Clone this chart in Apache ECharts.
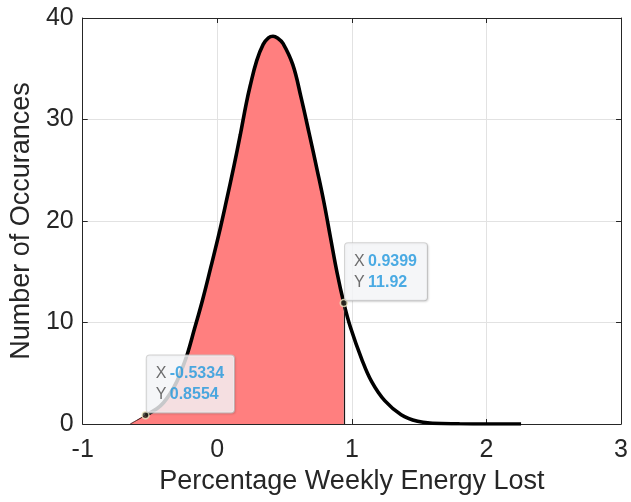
<!DOCTYPE html>
<html>
<head>
<meta charset="utf-8">
<script src="https://cdn.jsdelivr.net/npm/echarts@6/dist/echarts.min.js"></script>
<style>
  html, body { margin: 0; padding: 0; background: #fff; }
  #chart { width: 631px; height: 502px; }
</style>
</head>
<body>
<div id="chart"></div>
<script>
// density curve
const curveX = [-0.647, -0.6, -0.5334, -0.45, -0.4, -0.35, -0.3, -0.26, -0.22, -0.171, -0.11, -0.049,
  0.012, 0.068, 0.122, 0.171, 0.214, 0.244, 0.293, 0.341, 0.38, 0.414, 0.45, 0.488, 0.561, 0.622,
  0.683, 0.744, 0.793, 0.842, 0.89, 0.9399, 0.99, 1.073, 1.146, 1.244, 1.366, 1.488, 1.6, 1.8, 2.0, 2.257];
const curveY = [0, 0.35, 0.8554, 1.5, 2.1, 3.0, 4.2, 5.5, 7.0, 9.3, 12.2, 15.4,
  18.7, 22.0, 25.3, 28.5, 31.5, 33.3, 35.8, 37.4, 38.05, 38.2, 38.0, 37.5, 35.4, 32.2,
  28.6, 24.9, 21.8, 18.3, 14.9, 11.92, 9.5, 6.4, 4.2, 2.3, 0.92, 0.26, 0.08, 0.02, 0.0, 0];

// data tips
const tipX = [-0.5334, 0.9399];
const tipY = [0.8554, 11.92];

const FONT = "'Liberation Sans', Arial, Helvetica, sans-serif";
const INK = '#262626';

const points = curveX.map((x, i) => [x, curveY[i]]);
const fillPts = points.filter((p) => p[0] <= tipX[1]);
const linePts = points.filter((p) => p[0] >= tipX[0]);
const tipPts = tipX.map((x, i) => [x, tipY[i]]);

const chart = echarts.init(document.getElementById('chart'), null, { renderer: 'canvas' });

const baseAxis = {
  type: 'value',
  axisLine: { show: true, onZero: false, lineStyle: { color: INK, width: 1 } },
  axisTick: { show: true, inside: true, length: 5, lineStyle: { color: INK } },
  splitLine: { show: true, lineStyle: { color: '#e2e2e2', width: 1 } },
  axisLabel: { color: INK, fontSize: 25, fontFamily: FONT },
  nameTextStyle: { color: INK, fontSize: 27, fontFamily: FONT },
};

chart.setOption({
  animation: false,
  backgroundColor: '#ffffff',
  grid: { left: 81, right: 6, top: 18, bottom: 78 },
  xAxis: [
    {
      ...baseAxis,
      min: -1,
      max: 3,
      interval: 1,
      axisLabel: { ...baseAxis.axisLabel, margin: 14 },
      name: 'Percentage Weekly Energy Lost',
      nameLocation: 'middle',
      nameGap: 43,
    },
    {
      ...baseAxis,
      position: 'top',
      min: -1,
      max: 3,
      interval: 1,
      axisLabel: { show: false },
      splitLine: { show: false },
    },
  ],
  yAxis: [
    {
      ...baseAxis,
      min: 0,
      max: 40,
      interval: 10,
      axisLabel: { ...baseAxis.axisLabel, margin: 9 },
      name: 'Number of Occurances',
      nameLocation: 'middle',
      nameRotate: 90,
      nameGap: 44,
    },
    {
      ...baseAxis,
      position: 'right',
      min: 0,
      max: 40,
      interval: 10,
      axisLabel: { show: false },
      splitLine: { show: false },
    },
  ],
  series: [
    {
      // shaded part up to the second tip
      type: 'line',
      data: fillPts,
      smooth: 0.4,
      symbol: 'none',
      lineStyle: { color: '#3a1010', width: 1 },
      areaStyle: { color: 'rgb(255,127,127)', opacity: 1, origin: 'start' },
      markLine: {
        silent: true,
        symbol: 'none',
        label: { show: false },
        lineStyle: { color: '#1a1a1a', width: 1.2, type: 'solid' },
        data: [[{ coord: [tipX[1], 0] }, { coord: [tipX[1], tipY[1]] }]],
      },
      z: 2,
    },
    {
      type: 'line',
      data: linePts,
      smooth: 0.4,
      symbol: 'none',
      lineStyle: { color: '#000000', width: 3.6 },
      z: 3,
    },
    {
      type: 'scatter',
      data: tipPts,
      symbol: 'circle',
      symbolSize: 7,
      itemStyle: { color: '#2a2a22', borderColor: '#f3ecc4', borderWidth: 1.5 },
      label: {
        show: true,
        position: [5.5, 1.5],
        align: 'left',
        verticalAlign: 'bottom',
        backgroundColor: '#f9fafc',
        borderColor: '#c9c9c9',
        borderWidth: 1,
        borderRadius: 3,
        padding: [8, 10, 7, 9],
        shadowColor: 'rgba(0,0,0,0.12)',
        shadowBlur: 2,
        shadowOffsetX: 1,
        shadowOffsetY: 1,
        formatter: (p) =>
          '{k|X} {v|' + p.value[0].toFixed(4) + '}\n{k|Y} {v|' + p.value[1].toPrecision(4) + '}',
        rich: {
          k: { color: '#4a4a4a', fontSize: 16, fontFamily: FONT, lineHeight: 21 },
          v: { color: '#1f97dd', fontSize: 16, fontWeight: 'bold', fontFamily: FONT, lineHeight: 21 },
        },
      },
      z: 5,
    },
  ],
});
</script>
</body>
</html>
